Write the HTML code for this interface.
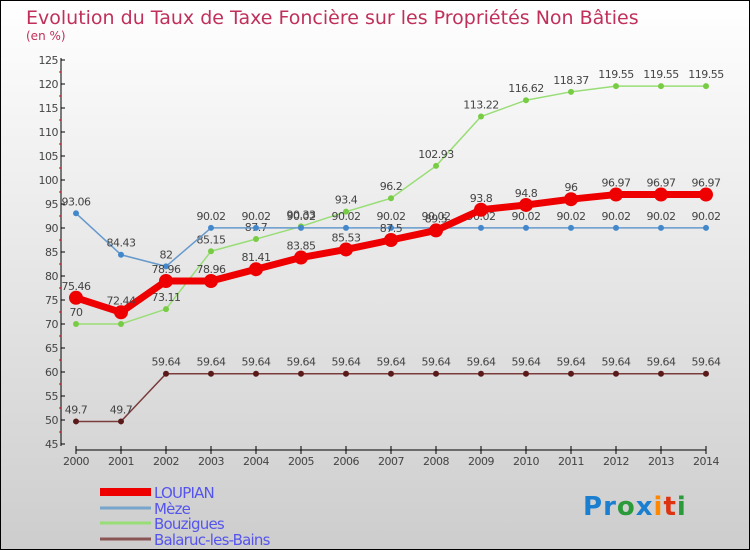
<!DOCTYPE html>
<html><head><meta charset="utf-8"><style>
html,body{margin:0;padding:0}
body{width:750px;height:550px;overflow:hidden;font-family:"DejaVu Sans","Liberation Sans",sans-serif}
#wrap{position:absolute;left:0;top:0;width:748px;height:548px;border:1px solid #000;background:linear-gradient(#ffffff,#cdcdcd)}
</style></head><body>
<div id="wrap">
<svg id="chart" width="750" height="550" style="position:absolute;left:-1px;top:-1px"></svg>
</div>
<script>
const years=[2000,2001,2002,2003,2004,2005,2006,2007,2008,2009,2010,2011,2012,2013,2014];
const loupian=[75.46,72.44,78.96,78.96,81.41,83.85,85.53,87.5,89.5,93.8,94.8,96,96.97,96.97,96.97];
const meze=[93.06,84.43,82,90.02,90.02,90.02,90.02,90.02,90.02,90.02,90.02,90.02,90.02,90.02,90.02];
const bouzigues=[70,70,73.11,85.15,87.7,90.33,93.4,96.2,102.93,113.22,116.62,118.37,119.55,119.55,119.55];
const balaruc=[49.7,49.7,59.64,59.64,59.64,59.64,59.64,59.64,59.64,59.64,59.64,59.64,59.64,59.64,59.64];
const yTicks=[45,50,55,60,65,70,75,80,85,90,95,100,105,110,115,120,125];
const NS="http://www.w3.org/2000/svg";
const svg=document.getElementById('chart');
function X(i){return 76+i*(706-76)/(years.length-1);}
function Y(v){return 60+(125-v)*4.8;}
function el(t,a,txt){const e=document.createElementNS(NS,t);for(const k in a)e.setAttribute(k,a[k]);if(txt!==undefined)e.textContent=txt;svg.appendChild(e);return e;}
let t=el('text',{x:26,y:24,fill:'#c0305a','font-size':19},'Evolution du Taux de Taxe Foncière sur les Propriétés Non Bâties');

t=el('text',{x:26,y:40,fill:'#c0305a','font-size':12},'(en %)');

// y axis
let a=el('line',{x1:61,y1:58,x2:61,y2:446,stroke:'#000','stroke-width':1});

yTicks.forEach((v,i)=>{
 el('line',{x1:61,y1:Y(v),x2:65,y2:Y(v),stroke:'#000'});
 if(i<yTicks.length-1)el('line',{x1:59,y1:Y(v+2.5),x2:61,y2:Y(v+2.5),stroke:'#e00'});
 const l=el('text',{x:58,y:Y(v)+4,'text-anchor':'end','font-size':11,fill:'#444','letter-spacing':'-0.5'},String(v));
 
});
// x axis
a=el('line',{x1:76,y1:450,x2:706,y2:450,stroke:'#000'});

years.forEach((y,i)=>{
 el('line',{x1:X(i),y1:446,x2:X(i),y2:454,stroke:'#000'});
 const l=el('text',{x:X(i),y:465,'text-anchor':'middle','font-size':11,fill:'#444','letter-spacing':'-0.5'},String(y));
 
});
function series(name,data,color,w,r,dot,lblColor){
 const g=document.createElementNS(NS,'g');svg.appendChild(g);
 
 const p=document.createElementNS(NS,'polyline');
 p.setAttribute('points',data.map((v,i)=>X(i)+','+Y(v)).join(' '));
 p.setAttribute('fill','none');p.setAttribute('stroke',color);p.setAttribute('stroke-width',w);p.setAttribute('stroke-linejoin','round');
 
 g.appendChild(p);
 data.forEach((v,i)=>{
  const c=document.createElementNS(NS,'circle');
  c.setAttribute('cx',X(i));c.setAttribute('cy',Y(v));c.setAttribute('r',r);c.setAttribute('fill',dot);
  
  g.appendChild(c);
  const tx=document.createElementNS(NS,'text');
  tx.setAttribute('x',X(i));tx.setAttribute('y',Y(v)-8);tx.setAttribute('text-anchor','middle');
  tx.setAttribute('font-size',11);tx.setAttribute('fill','#444');tx.setAttribute('letter-spacing','-0.5');
  tx.textContent=String(v);
  
  g.appendChild(tx);
 });
}
series('balaruc',balaruc,'#7a3b3b',1.5,3,'#5a1a1a');
series('bouzigues',bouzigues,'#99dd77',1.5,3,'#77cc44');
series('meze',meze,'#6699cc',1.5,3,'#4488cc');
series('loupian',loupian,'#ee0000',7,7,'#ee0000');
// legend
const leg=[['LOUPIAN','#ee0000',8,492],['Mèze','#77a5cc',3,508],['Bouzigues','#99dd77',3,523],['Balaruc-les-Bains','#8a5555',3,539]];
leg.forEach(l=>{
 const s=el('line',{x1:100,y1:l[3],x2:151,y2:l[3],stroke:l[1],'stroke-width':l[2]});
 
 const tx=el('text',{x:154,y:l[3]+6,'font-size':15,fill:'#5555ee','letter-spacing':'-0.8'},l[0]);
 
});
// logo
const logo=el('text',{x:583,y:515,'font-size':26,'font-weight':'bold','letter-spacing':'1'});

[['P','#1a7fd0'],['r','#1a7fd0'],['o','#2a9a3a'],['x','#1a7fd0'],['i','#ff8800'],['t','#dd3311'],['i','#2a9a3a']].forEach(c=>{
 const s=document.createElementNS(NS,'tspan');s.setAttribute('fill',c[1]);s.textContent=c[0];logo.appendChild(s);
});
</script>
</body></html>
